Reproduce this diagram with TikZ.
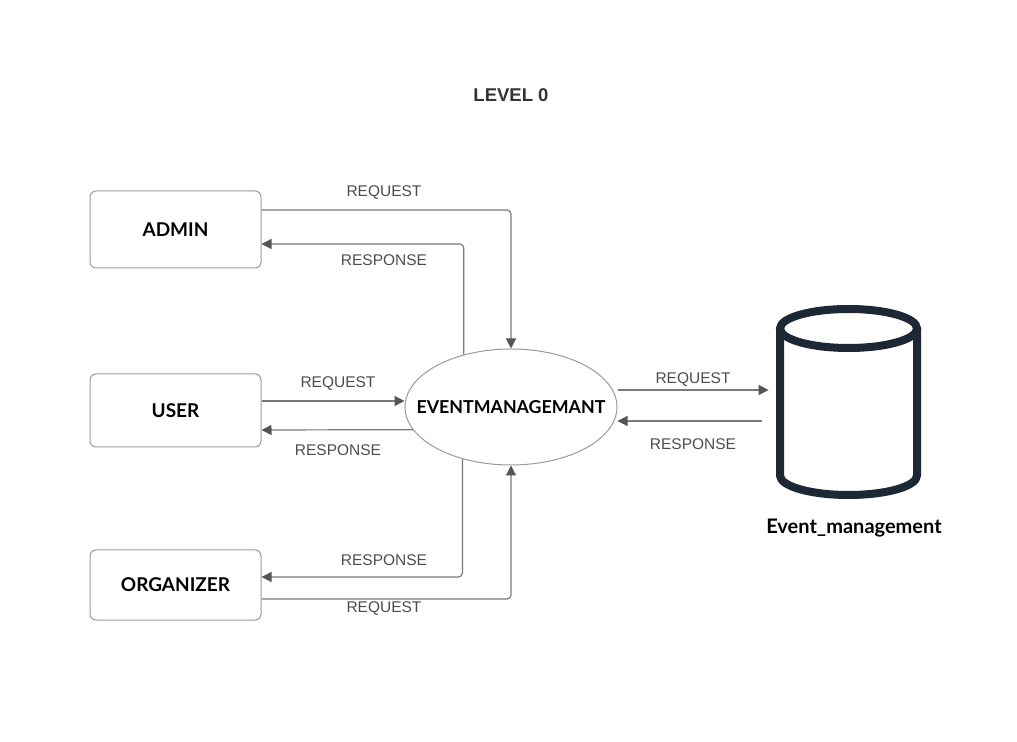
\documentclass[tikz,border=0pt]{standalone}
\usepackage{fontspec}
\setmainfont{Liberation Sans}
\newfontfamily\boxfont{Lato}
\usetikzlibrary{shapes.geometric, positioning, arrows.meta, calc}
\definecolor{linegray}{HTML}{7A7A7A}
\definecolor{tipgray}{HTML}{555555}
\definecolor{boxgray}{HTML}{9A9A9A}
\definecolor{txtgray}{HTML}{4C4C4C}
\definecolor{dbnavy}{HTML}{1E2835}
\tikzset{
  entity/.style={rectangle, rounded corners=3pt, minimum width=85.5pt, align=center, draw=boxgray, line width=0.5pt, fill=white, font=\boxfont\bfseries\fontsize{9.5}{11}\selectfont},
  process/.style={ellipse, minimum width=106pt, minimum height=58pt, inner sep=0pt, draw=boxgray, line width=0.5pt, fill=white},
  proctext/.style={font=\boxfont\bfseries\fontsize{8.9}{11}\selectfont},
  flowlbl/.style={text=txtgray, inner sep=0pt, font=\fontsize{7.75}{9}\selectfont},
  arrow/.style={draw=linegray, line width=0.6pt, rounded corners=2pt, -{Triangle[length=5pt,width=5pt,color=tipgray]}}
}

\begin{document}
\begin{tikzpicture}[x=0.5pt, y=-0.5pt,
        dbline/.style={draw=dbnavy, line width=4pt},
        titletext/.style={text=black!80, font=\bfseries\fontsize{9.25}{11}\selectfont},
        dbtext/.style={font=\boxfont\bfseries\fontsize{10}{12}\selectfont}]
        \useasboundingbox (0,0) rectangle (1017,742);

        \node (title) [titletext] at (511,95) {LEVEL 0};

        % Entidades externas
        \node (admin) [entity, minimum height=38.5pt] at (175.5,229.5) {ADMIN};
        \node (user) [entity, minimum height=36.5pt] at (175.5,410.5) {USER};
        \node (org) [entity, minimum height=35pt] at (175.5,585) {ORGANIZER};

        % Proceso central
        \node (evm) [process, label={[proctext]center:EVENTMANAGEMANT}] at (511,407) {};

        % Almacen de datos
        \node (db) [minimum width=72.5pt, minimum height=97.5pt, inner sep=0pt] at (848.5,401.5) {};
        \draw [dbline] (848.5,328.5) ellipse [x radius=34.25pt, y radius=9.75pt];
        \draw [dbline] (780,328.5) -- (780,475.5) arc [start angle=180, end angle=360, x radius=34.25pt, y radius=9.75pt] -- (917,328.5);
        \node (dblbl) [dbtext] at (854,528) {Event\_management};

        % ADMIN
        \draw [arrow] ($(admin.east)+(0,-19.5)$) -| (evm.north);
        \draw [arrow] (evm.132.7) |- ($(admin.east)+(0,14.5)$);
        \node (areq) [flowlbl] at (384,193) {REQUEST};
        \node (ares) [flowlbl] at (384,260) {RESPONSE};

        % USER
        \draw [arrow] ($(user.east)+(0,-9.5)$) -- ($(evm.west)+(0,-6)$);
        \draw [arrow] (evm.193.3) -- ($(user.east)+(0,19.5)$);
        \node (ureq) [flowlbl] at (338,384) {REQUEST};
        \node (ures) [flowlbl] at (338,450) {RESPONSE};

        % ORGANIZER
        \draw [arrow] (evm.227.3) |- ($(org.east)+(0,-8)$);
        \draw [arrow] ($(org.east)+(0,14)$) -| (evm.south);
        \node (ores) [flowlbl] at (384,560) {RESPONSE};
        \node (oreq) [flowlbl] at (384,609) {REQUEST};

        % Base de datos
        \draw [arrow] ($(evm.east)+(0,-17)$) -- ($(db.west)+(-7,-11.5)$);
        \draw [arrow] ($(db.west)+(-14,19.5)$) -- ($(evm.east)+(0,14)$);
        \node (dreq) [flowlbl] at (693,380) {REQUEST};
        \node (dres) [flowlbl] at (693,444) {RESPONSE};

\end{tikzpicture}
\end{document}
